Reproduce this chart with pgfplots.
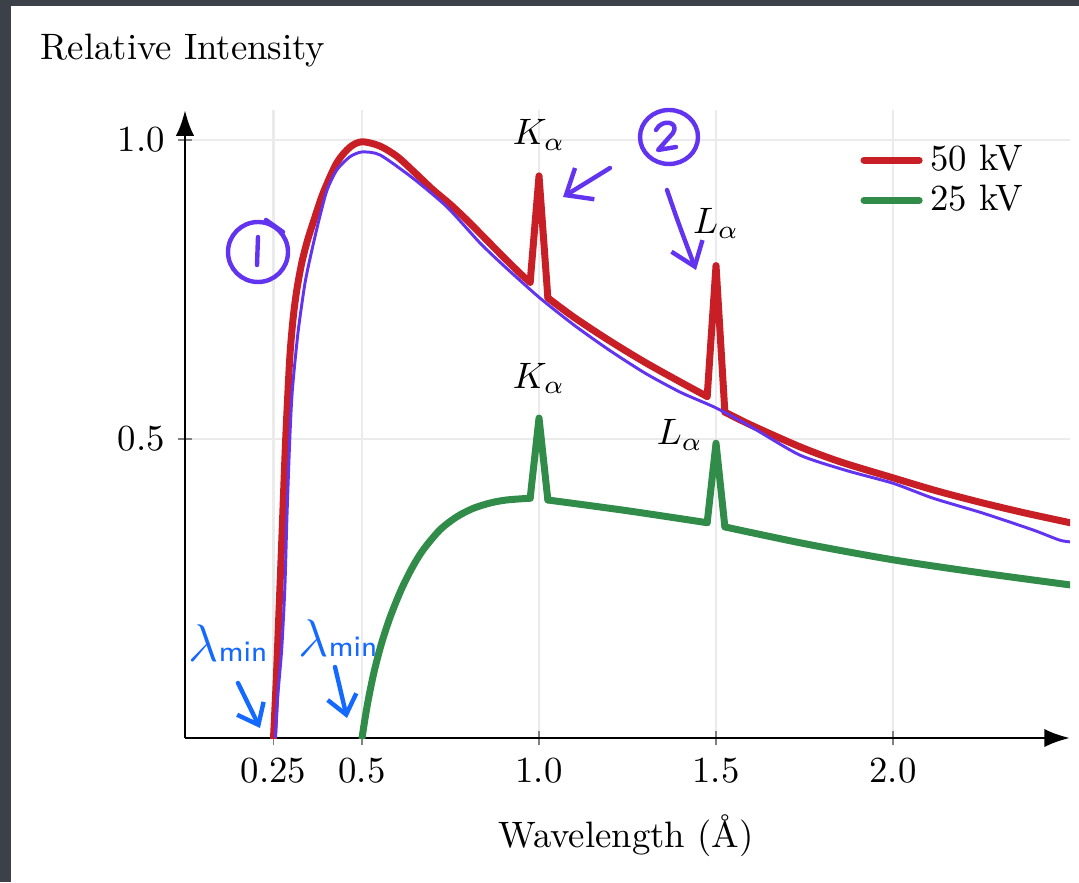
\documentclass[border=0pt]{standalone}
\usepackage{pgfplots}
\pgfplotsset{compat=1.18}
\usetikzlibrary{arrows.meta}

\definecolor{rline}{RGB}{200,30,38}
\definecolor{gline}{RGB}{48,140,72}
\definecolor{pen}{RGB}{98,52,240}
\definecolor{bpen}{RGB}{20,105,255}
\definecolor{frame}{RGB}{60,64,72}
\definecolor{gridc}{RGB}{235,235,235}

% px grid of the screenshot, origin at its top left corner
\tikzset{px/.style={x=0.272pt,y=-0.272pt,shift={(-50.32pt,200.74pt)}}}

\begin{document}
\begin{tikzpicture}
\begin{scope}[px]
  \useasboundingbox (0,0) rectangle (1079,882);
  \fill[frame] (0,0) rectangle (1079,882);
  \fill[white] (11,6) rectangle (1079,882);
  \node[anchor=base west, inner sep=0pt] at (40,60) {Relative Intensity};
  \node[anchor=base, inner sep=0pt] at (626,847) {Wavelength (\AA)};
\end{scope}

\begin{axis}[
    anchor=origin, at={(0,0)},
    x=96.29pt, y=162.66pt,
    xmin=0, xmax=2.5,
    ymin=0, ymax=1.05,
    axis x line=bottom, axis y line=left,
    axis line style={line width=0.8pt},
    every outer x axis line/.append style={-{Latex[length=7pt,width=5pt]}},
    every outer y axis line/.append style={-{Latex[length=7pt,width=5pt]}},
    xtick={0.25,0.5,1,1.5,2},
    xticklabels={0.25,0.5,1.0,1.5,2.0},
    ytick={0.5,1},
    yticklabels={0.5,1.0},
    tick style={gray, line width=0.4pt},
    tick align=center,
    major tick length=4pt,
    grid=major,
    grid style={gridc, line width=0.6pt},
    legend style={draw=none, fill=none, at={(axis cs:1.875,1.018)}, anchor=north west,
        row sep=-1.5pt},
    legend cell align=left,
    legend image code/.code={\draw[#1] (0pt,0pt) -- (15pt,0pt);},
    rcurve/.style={rline, line width=1.9pt, line join=round, line cap=round},
    gcurve/.style={gline, line width=1.9pt, line join=round, line cap=round},
]

% 50 kV: smooth continuum pieces and the two sharp lines
\addplot[rcurve, smooth, tension=0.5] coordinates {
 (0.25,0) (0.258,0.1) (0.266,0.22) (0.274,0.34) (0.283,0.48) (0.29,0.57)
 (0.297,0.645) (0.306,0.705) (0.316,0.75) (0.33,0.795) (0.345,0.83)
 (0.362,0.862) (0.39,0.911) (0.429,0.962) (0.466,0.988) (0.5,0.997)
 (0.55,0.99) (0.6,0.972) (0.65,0.945) (0.7,0.917) (0.75,0.892)
 (0.8,0.864) (0.85,0.834) (0.9,0.804) (0.95,0.775) (0.975,0.762)
};
\addlegendentry{50 kV}
\addplot[rcurve, forget plot] coordinates {(0.975,0.762) (1.0,0.94) (1.025,0.736)};
\addplot[rcurve, smooth, forget plot] coordinates {
 (1.025,0.736) (1.1,0.703) (1.2,0.664) (1.3,0.628) (1.4,0.595) (1.475,0.571)
};
\addplot[rcurve, forget plot] coordinates {(1.475,0.571) (1.5,0.79) (1.525,0.545)};
\addplot[rcurve, smooth, forget plot] coordinates {
 (1.525,0.545) (1.6,0.523) (1.737,0.487) (1.85,0.462) (2.0,0.435)
 (2.125,0.413) (2.254,0.393) (2.375,0.376) (2.5,0.36)
};

% 25 kV
\addplot[gcurve, smooth, tension=0.5] coordinates {
 (0.5,0) (0.51,0.038) (0.52,0.071) (0.535,0.113) (0.555,0.158) (0.58,0.203)
 (0.61,0.247) (0.64,0.283) (0.672,0.314) (0.72,0.348) (0.768,0.37)
 (0.814,0.384) (0.862,0.393) (0.908,0.398) (0.975,0.401)
};
\addlegendentry{25 kV}
\addplot[gcurve, forget plot] coordinates {(0.975,0.401) (1.0,0.535) (1.025,0.398)};
\addplot[gcurve, smooth, forget plot] coordinates {
 (1.025,0.398) (1.25,0.38) (1.475,0.36)
};
\addplot[gcurve, forget plot] coordinates {(1.475,0.36) (1.5,0.493) (1.525,0.353)};
\addplot[gcurve, smooth, forget plot] coordinates {
 (1.525,0.353) (1.75,0.325) (2.0,0.298) (2.25,0.276) (2.5,0.256)
};

% hand-drawn trace over the 50 kV curve
\addplot[pen, line width=0.8pt, smooth, tension=0.4, forget plot] coordinates {
 (0.255,0) (0.262,0.07) (0.273,0.147) (0.282,0.25) (0.288,0.37)
 (0.296,0.5) (0.303,0.58) (0.319,0.677) (0.339,0.761) (0.36,0.82)
 (0.38,0.87) (0.401,0.916) (0.429,0.95) (0.466,0.972) (0.5,0.98)
 (0.551,0.975) (0.644,0.936) (0.74,0.888) (0.833,0.828) (0.9,0.79)
 (1.0,0.737) (1.1,0.69) (1.2,0.648) (1.3,0.61) (1.4,0.578)
 (1.5,0.552) (1.6,0.52) (1.737,0.473) (1.87,0.447) (2.0,0.426)
 (2.113,0.401) (2.254,0.376) (2.395,0.348) (2.47,0.331) (2.5,0.328)
};

\node[anchor=base] at (axis cs:1.0,0.992) {$K_\alpha$};
\node[anchor=base] at (axis cs:1.0,0.585) {$K_\alpha$};
\node[anchor=base] at (axis cs:1.5,0.844) {$L_\alpha$};
\node[anchor=base] at (axis cs:1.398,0.49) {$L_\alpha$};
\end{axis}

\begin{scope}[px, line cap=round, line join=round]
  % purple notes
  \draw[pen, line width=1.2pt] (258,252) circle [radius=30];
  \draw[pen, line width=1.2pt] (266,220) -- (283,232);
  \draw[pen, line width=1.2pt] (258,237) -- (257,265);
  \draw[pen, line width=1.2pt] (669,137) ellipse [x radius=29, y radius=27];
  \draw[pen, line width=1.2pt] (656,130) .. controls (662,118) and (680,122) .. (673,133)
        -- (658,150) -- (676,147);
  \draw[pen, line width=1.2pt, -{Straight Barb[length=6pt,width=10pt]}] (610,168) -- (563,197);
  \draw[pen, line width=1.2pt, -{Straight Barb[length=6pt,width=9pt]}]
        (667,190) .. controls (678,222) .. (696,270);
  % blue notes
  \node[bpen, inner sep=0pt] at (228,643) {{\Large$\lambda$}{\footnotesize\textsf{min}}};
  \node[bpen, inner sep=0pt] at (338,638) {{\Large$\lambda$}{\footnotesize\textsf{min}}};
  \draw[bpen, line width=1.2pt, -{Straight Barb[length=5pt,width=8pt]}] (238,683) -- (260,728);
  \draw[bpen, line width=1.2pt, -{Straight Barb[length=5pt,width=8pt]}] (335,667) -- (347,718);
\end{scope}
\end{tikzpicture}
\end{document}
